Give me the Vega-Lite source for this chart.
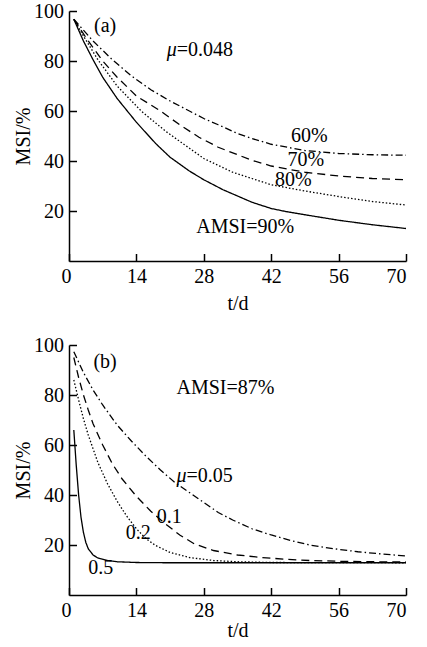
{
  "$schema": "https://vega.github.io/schema/vega-lite/v6.json",
  "padding": {"left": 13, "top": 1, "right": 5, "bottom": 2},
  "background": "white",
  "config": {
    "view": {"stroke": null},
    "font": "Liberation Serif",
    "axis": {
      "grid": false,
      "domainColor": "black",
      "domainWidth": 1.5,
      "tickColor": "black",
      "tickWidth": 1.5,
      "tickSize": -7.5,
      "labelFont": "Liberation Serif",
      "labelFontSize": 20,
      "labelColor": "black",
      "titleFont": "Liberation Serif",
      "titleFontSize": 20,
      "titleFontWeight": "normal",
      "titleColor": "black"
    },
    "axisX": {"labelPadding": 12.5},
    "axisY": {"labelPadding": 13, "titlePadding": 0},
    "text": {"font": "Liberation Serif", "fontSize": 20, "color": "black"},
    "concat": {"spacing": 22}
  },
  "datasets": {
    "a": [
      {"s": "90%", "t": 1, "msi": 96.7}, {"s": "90%", "t": 3, "msi": 88}, {"s": "90%", "t": 5, "msi": 80.5}, {"s": "90%", "t": 7, "msi": 73.5}, {"s": "90%", "t": 10, "msi": 65}, {"s": "90%", "t": 14, "msi": 55.5}, {"s": "90%", "t": 18, "msi": 47}, {"s": "90%", "t": 21, "msi": 41.5}, {"s": "90%", "t": 25, "msi": 36}, {"s": "90%", "t": 28, "msi": 32.5}, {"s": "90%", "t": 32, "msi": 28.5}, {"s": "90%", "t": 35, "msi": 26}, {"s": "90%", "t": 38, "msi": 23.5}, {"s": "90%", "t": 42, "msi": 21}, {"s": "90%", "t": 45, "msi": 19.8}, {"s": "90%", "t": 49, "msi": 18.5}, {"s": "90%", "t": 56, "msi": 16.3}, {"s": "90%", "t": 63, "msi": 14.5}, {"s": "90%", "t": 70, "msi": 13},
      {"s": "80%", "t": 1, "msi": 96.7}, {"s": "80%", "t": 3, "msi": 90}, {"s": "80%", "t": 6, "msi": 80.5}, {"s": "80%", "t": 10, "msi": 70}, {"s": "80%", "t": 15, "msi": 60}, {"s": "80%", "t": 20, "msi": 52}, {"s": "80%", "t": 24, "msi": 46.5}, {"s": "80%", "t": 28, "msi": 41}, {"s": "80%", "t": 34, "msi": 35.5}, {"s": "80%", "t": 38, "msi": 33}, {"s": "80%", "t": 42, "msi": 30.5}, {"s": "80%", "t": 49, "msi": 28}, {"s": "80%", "t": 56, "msi": 25.8}, {"s": "80%", "t": 63, "msi": 23.8}, {"s": "80%", "t": 70, "msi": 22.4},
      {"s": "70%", "t": 1, "msi": 96.7}, {"s": "70%", "t": 4, "msi": 88}, {"s": "70%", "t": 7, "msi": 80}, {"s": "70%", "t": 10, "msi": 73.5}, {"s": "70%", "t": 14, "msi": 66}, {"s": "70%", "t": 19, "msi": 60}, {"s": "70%", "t": 23, "msi": 54.5}, {"s": "70%", "t": 27, "msi": 49.5}, {"s": "70%", "t": 31, "msi": 45.5}, {"s": "70%", "t": 35, "msi": 42.5}, {"s": "70%", "t": 38, "msi": 40.3}, {"s": "70%", "t": 42, "msi": 38}, {"s": "70%", "t": 49, "msi": 35.5}, {"s": "70%", "t": 56, "msi": 34}, {"s": "70%", "t": 63, "msi": 33}, {"s": "70%", "t": 70, "msi": 32.5},
      {"s": "60%", "t": 1, "msi": 96.7}, {"s": "60%", "t": 5, "msi": 88}, {"s": "60%", "t": 9, "msi": 80.5}, {"s": "60%", "t": 13, "msi": 74}, {"s": "60%", "t": 17, "msi": 68.5}, {"s": "60%", "t": 21, "msi": 64}, {"s": "60%", "t": 25, "msi": 60}, {"s": "60%", "t": 28, "msi": 57}, {"s": "60%", "t": 31, "msi": 54.5}, {"s": "60%", "t": 35, "msi": 51}, {"s": "60%", "t": 38, "msi": 49}, {"s": "60%", "t": 42, "msi": 46.7}, {"s": "60%", "t": 49, "msi": 44.2}, {"s": "60%", "t": 56, "msi": 43}, {"s": "60%", "t": 63, "msi": 42.5}, {"s": "60%", "t": 70, "msi": 42.3}
    ],
    "b": [
      {"s": "0.5", "t": 1, "msi": 66}, {"s": "0.5", "t": 1.5, "msi": 52}, {"s": "0.5", "t": 2, "msi": 40}, {"s": "0.5", "t": 2.5, "msi": 31}, {"s": "0.5", "t": 3, "msi": 25}, {"s": "0.5", "t": 3.5, "msi": 21}, {"s": "0.5", "t": 4, "msi": 18.5}, {"s": "0.5", "t": 5, "msi": 16}, {"s": "0.5", "t": 6, "msi": 14.8}, {"s": "0.5", "t": 8, "msi": 13.8}, {"s": "0.5", "t": 10, "msi": 13.3}, {"s": "0.5", "t": 14, "msi": 13}, {"s": "0.5", "t": 20, "msi": 12.9}, {"s": "0.5", "t": 70, "msi": 12.9},
      {"s": "0.2", "t": 1, "msi": 86}, {"s": "0.2", "t": 2, "msi": 78}, {"s": "0.2", "t": 3, "msi": 70.5}, {"s": "0.2", "t": 4, "msi": 64}, {"s": "0.2", "t": 5, "msi": 58.5}, {"s": "0.2", "t": 6, "msi": 53}, {"s": "0.2", "t": 8, "msi": 44.5}, {"s": "0.2", "t": 10, "msi": 37.5}, {"s": "0.2", "t": 12, "msi": 31.5}, {"s": "0.2", "t": 14, "msi": 26.5}, {"s": "0.2", "t": 16, "msi": 22.5}, {"s": "0.2", "t": 18, "msi": 19.8}, {"s": "0.2", "t": 21, "msi": 17}, {"s": "0.2", "t": 25, "msi": 15}, {"s": "0.2", "t": 30, "msi": 13.8}, {"s": "0.2", "t": 35, "msi": 13.3}, {"s": "0.2", "t": 42, "msi": 13}, {"s": "0.2", "t": 70, "msi": 12.9},
      {"s": "0.1", "t": 1, "msi": 95}, {"s": "0.1", "t": 2, "msi": 87}, {"s": "0.1", "t": 3, "msi": 80}, {"s": "0.1", "t": 4, "msi": 74}, {"s": "0.1", "t": 5, "msi": 68.5}, {"s": "0.1", "t": 7, "msi": 60}, {"s": "0.1", "t": 9, "msi": 52.5}, {"s": "0.1", "t": 11, "msi": 46.5}, {"s": "0.1", "t": 14, "msi": 39.5}, {"s": "0.1", "t": 17, "msi": 33.5}, {"s": "0.1", "t": 20, "msi": 28.5}, {"s": "0.1", "t": 23, "msi": 24}, {"s": "0.1", "t": 26, "msi": 20.5}, {"s": "0.1", "t": 30, "msi": 17.8}, {"s": "0.1", "t": 35, "msi": 16}, {"s": "0.1", "t": 40, "msi": 15}, {"s": "0.1", "t": 45, "msi": 14.3}, {"s": "0.1", "t": 50, "msi": 13.8}, {"s": "0.1", "t": 56, "msi": 13.5}, {"s": "0.1", "t": 63, "msi": 13.3}, {"s": "0.1", "t": 70, "msi": 13.2},
      {"s": "0.05", "t": 1, "msi": 97.3}, {"s": "0.05", "t": 3, "msi": 89}, {"s": "0.05", "t": 5, "msi": 82}, {"s": "0.05", "t": 7, "msi": 76}, {"s": "0.05", "t": 10, "msi": 68}, {"s": "0.05", "t": 13, "msi": 61.5}, {"s": "0.05", "t": 16, "msi": 55.5}, {"s": "0.05", "t": 19, "msi": 50}, {"s": "0.05", "t": 22, "msi": 45}, {"s": "0.05", "t": 25, "msi": 41}, {"s": "0.05", "t": 28, "msi": 37}, {"s": "0.05", "t": 31, "msi": 33}, {"s": "0.05", "t": 34, "msi": 30}, {"s": "0.05", "t": 38, "msi": 26.5}, {"s": "0.05", "t": 42, "msi": 24}, {"s": "0.05", "t": 46, "msi": 21.8}, {"s": "0.05", "t": 50, "msi": 20}, {"s": "0.05", "t": 55, "msi": 18.5}, {"s": "0.05", "t": 60, "msi": 17.3}, {"s": "0.05", "t": 65, "msi": 16.4}, {"s": "0.05", "t": 70, "msi": 15.6}
    ],
    "aLabels": [
      {"label": "(a)", "t": 7.5, "msi": 94},
      {"label": "60%", "t": 49.9, "msi": 49.9},
      {"label": "70%", "t": 49.2, "msi": 40.3},
      {"label": "80%", "t": 46.6, "msi": 32.3},
      {"label": "AMSI=90%", "t": 36.6, "msi": 13.6}
    ],
    "aMu": [{"label": "μ", "eq": "=0.048", "t": 22.4, "msi": 84.3}],
    "bLabels": [
      {"label": "(b)", "t": 7.5, "msi": 93.3},
      {"label": "AMSI=87%", "t": 32.5, "msi": 82.7},
      {"label": "0.1", "t": 20.8, "msi": 31.3},
      {"label": "0.2", "t": 14.4, "msi": 24.7},
      {"label": "0.5", "t": 6.6, "msi": 10.7}
    ],
    "bMu": [{"label": "μ", "eq": "=0.05", "t": 24.4, "msi": 47.6}]
  },
  "vconcat": [
    {
      "width": 337,
      "height": 250,
      "encoding": {
        "x": {"field": "t", "type": "quantitative", "scale": {"domain": [0, 70], "nice": false},
              "axis": {"values": [0, 14, 28, 42, 56, 70], "title": "t/d", "titlePadding": 7,
                       "labelOffset": {"condition": {"test": "datum.value === 0", "value": -8}, "value": 0}}},
        "y": {"field": "msi", "type": "quantitative", "scale": {"domain": [0, 100], "nice": false},
              "axis": {"values": [20, 40, 60, 80, 100], "title": "MSI/%"}}
      },
      "layer": [
        {
          "data": {"name": "a"},
          "mark": {"type": "line", "color": "black", "strokeWidth": 1.3},
          "encoding": {
            "detail": {"field": "s", "type": "nominal"},
            "strokeDash": {"field": "s", "type": "nominal", "legend": null,
              "scale": {"domain": ["90%", "80%", "70%", "60%"], "range": [[1, 0], [1.5, 2], [8, 5], [7, 3, 1.5, 3]]}}
          }
        },
        {
          "data": {"name": "aLabels"},
          "mark": {"type": "text", "align": "center", "baseline": "middle"},
          "encoding": {"text": {"field": "label"}}
        },
        {
          "data": {"name": "aMu"},
          "mark": {"type": "text", "align": "right", "baseline": "middle", "fontStyle": "italic"},
          "encoding": {"text": {"field": "label"}}
        },
        {
          "data": {"name": "aMu"},
          "mark": {"type": "text", "align": "left", "baseline": "middle"},
          "encoding": {"text": {"field": "eq"}}
        }
      ]
    },
    {
      "width": 337,
      "height": 250,
      "encoding": {
        "x": {"field": "t", "type": "quantitative", "scale": {"domain": [0, 70], "nice": false},
              "axis": {"values": [0, 14, 28, 42, 56, 70], "title": "t/d", "titlePadding": 0,
                       "labelOffset": {"condition": {"test": "datum.value === 0", "value": -8}, "value": 0}}},
        "y": {"field": "msi", "type": "quantitative", "scale": {"domain": [0, 100], "nice": false},
              "axis": {"values": [20, 40, 60, 80, 100], "title": "MSI/%"}}
      },
      "layer": [
        {
          "data": {"name": "b"},
          "mark": {"type": "line", "color": "black", "strokeWidth": 1.3},
          "encoding": {
            "detail": {"field": "s", "type": "nominal"},
            "strokeDash": {"field": "s", "type": "nominal", "legend": null,
              "scale": {"domain": ["0.5", "0.2", "0.1", "0.05"], "range": [[1, 0], [1.5, 2], [8, 5], [7, 3, 1.5, 3]]}}
          }
        },
        {
          "data": {"name": "bLabels"},
          "mark": {"type": "text", "align": "center", "baseline": "middle"},
          "encoding": {"text": {"field": "label"}}
        },
        {
          "data": {"name": "bMu"},
          "mark": {"type": "text", "align": "right", "baseline": "middle", "fontStyle": "italic"},
          "encoding": {"text": {"field": "label"}}
        },
        {
          "data": {"name": "bMu"},
          "mark": {"type": "text", "align": "left", "baseline": "middle"},
          "encoding": {"text": {"field": "eq"}}
        }
      ]
    }
  ]
}
